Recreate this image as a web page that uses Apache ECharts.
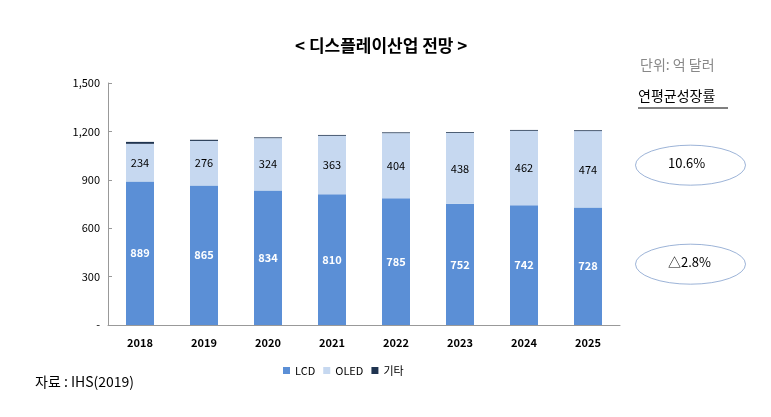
<!DOCTYPE html>
<html><head><meta charset="utf-8">
<script src="https://cdn.jsdelivr.net/npm/echarts@6/dist/echarts.min.js"></script>
<style>html,body{margin:0;background:#fff}#c{width:771px;height:417px}</style>
</head><body><div id="c"></div>
<script>
const years = ['2018', '2019', '2020', '2021', '2022', '2023', '2024', '2025'];
const lcd = [889, 865, 834, 810, 785, 752, 742, 728];
const oled = [234, 276, 324, 363, 404, 438, 462, 474];
const etc = [12, 7, 5, 5, 5, 5, 5, 5];
const yTicks = [0, 300, 600, 900, 1200, 1500];

const font = '"Noto Sans CJK KR", sans-serif';
const chart = echarts.init(document.getElementById('c'));

function ellipse(cx, cy, label) {
  return [
    { type: 'circle', left: cx - 55, top: cy - 20, shape: { cx: 55, cy: 55, r: 55 }, scaleY: 20 / 55,
      style: { fill: '#fff', stroke: '#6d8fc4', lineWidth: 1 } },
    { type: 'text', left: cx - 22, top: cy - 8, style: { text: label, fontSize: 13, fill: '#000', fontFamily: font } },
  ];
}

chart.setOption({
  animation: false,
  textStyle: { fontFamily: font },
  title: { text: '< 디스플레이산업 전망 >', left: 290, top: 32,
    textStyle: { fontSize: 17, fontWeight: 'bold', color: '#000', fontFamily: font } },
  legend: {
    data: ['LCD', 'OLED', '기타'], left: 'center', top: 360, itemWidth: 7, itemHeight: 7, itemGap: 8,
    icon: 'rect', textStyle: { fontSize: 11, color: '#000' }, left: 278,
  },
  grid: { left: 108, right: 151, top: 83, bottom: 92 },
  xAxis: {
    type: 'category', data: years,
    axisLine: { lineStyle: { color: '#999' } },
    axisTick: { show: false },
    axisLabel: { color: '#000', fontSize: 11, fontWeight: 'bold', margin: 12 },
  },
  yAxis: {
    type: 'value', min: 0, max: 1500, interval: 300,
    axisLine: { show: true, lineStyle: { color: '#999' } },
    axisTick: { show: true, inside: true, length: 4, lineStyle: { color: '#999' } },
    splitLine: { show: false },
    axisLabel: { color: '#000', fontSize: 11,
      formatter: v => yTicks.includes(v) ? (v === 0 ? '-' : v.toLocaleString('en-US')) : '' },
  },
  series: [
    { name: 'LCD', type: 'bar', stack: 't', data: lcd, barWidth: 28,
      itemStyle: { color: '#5b8fd6' },
      label: { show: true, color: '#fff', fontSize: 11, fontWeight: 'bold' } },
    { name: 'OLED', type: 'bar', stack: 't', data: oled,
      itemStyle: { color: '#c6d8f0' },
      label: { show: true, color: '#000', fontSize: 11 } },
    { name: '기타', type: 'bar', stack: 't', data: etc,
      itemStyle: { color: '#1f3450' } },
  ],
  graphic: [
    { type: 'text', left: 640, top: 58, style: { text: '단위: 억 달러', fontSize: 14, fill: '#888', fontFamily: font } },
    { type: 'text', left: 638, top: 89, style: { text: '연평균성장률', fontSize: 14, fill: '#000', fontFamily: font } },
    { type: 'line', shape: { x1: 638, y1: 108, x2: 728, y2: 108 }, style: { stroke: '#000', lineWidth: 1 } },
    ...ellipse(690, 165, '10.6%'),
    ...ellipse(690, 264, '△2.8%'),
    { type: 'text', left: 35, top: 375, style: { text: '자료 : IHS(2019)', fontSize: 14, fill: '#000', fontFamily: font } },
  ],
});
</script></body></html>
